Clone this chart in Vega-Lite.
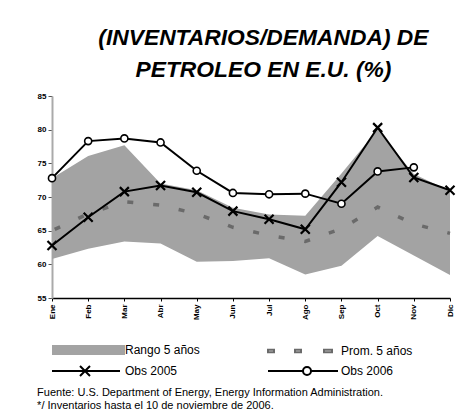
{
  "$schema": "https://vega.github.io/schema/vega-lite/v6.json",
  "padding": {"left": 37, "top": 27, "right": 5, "bottom": 2},
  "title": {
    "text": ["Fuente: U.S. Department of Energy, Energy Information Administration.", "*/ Inventarios hasta el 10 de noviembre de 2006."],
    "orient": "bottom",
    "anchor": "start",
    "font": "Liberation Sans",
    "fontSize": 11,
    "fontWeight": "normal",
    "lineHeight": 13,
    "offset": 3,
    "color": "#000"
  },
  "datasets": {
    "rango": [
      {"mes": "Ene", "min": 60.8, "max": 72.8, "serie": "Rango 5 años"},
      {"mes": "Feb", "min": 62.3, "max": 76.1, "serie": "Rango 5 años"},
      {"mes": "Mar", "min": 63.4, "max": 77.7, "serie": "Rango 5 años"},
      {"mes": "Abr", "min": 63.1, "max": 72.0, "serie": "Rango 5 años"},
      {"mes": "May", "min": 60.4, "max": 71.0, "serie": "Rango 5 años"},
      {"mes": "Jun", "min": 60.5, "max": 68.4, "serie": "Rango 5 años"},
      {"mes": "Jul", "min": 60.9, "max": 67.4, "serie": "Rango 5 años"},
      {"mes": "Ago", "min": 58.5, "max": 67.2, "serie": "Rango 5 años"},
      {"mes": "Sep", "min": 59.8, "max": 73.5, "serie": "Rango 5 años"},
      {"mes": "Oct", "min": 64.2, "max": 80.0, "serie": "Rango 5 años"},
      {"mes": "Nov", "min": 61.3, "max": 73.4, "serie": "Rango 5 años"},
      {"mes": "Dic", "min": 58.4, "max": 70.9, "serie": "Rango 5 años"}
    ],
    "series": [
      {"mes": "Ene", "serie": "Prom. 5 años", "valor": 65.0},
      {"mes": "Feb", "serie": "Prom. 5 años", "valor": 67.5},
      {"mes": "Mar", "serie": "Prom. 5 años", "valor": 69.3},
      {"mes": "Abr", "serie": "Prom. 5 años", "valor": 68.8},
      {"mes": "May", "serie": "Prom. 5 años", "valor": 67.5},
      {"mes": "Jun", "serie": "Prom. 5 años", "valor": 65.5},
      {"mes": "Jul", "serie": "Prom. 5 años", "valor": 64.3},
      {"mes": "Ago", "serie": "Prom. 5 años", "valor": 63.4},
      {"mes": "Sep", "serie": "Prom. 5 años", "valor": 65.3},
      {"mes": "Oct", "serie": "Prom. 5 años", "valor": 68.5},
      {"mes": "Nov", "serie": "Prom. 5 años", "valor": 66.0},
      {"mes": "Dic", "serie": "Prom. 5 años", "valor": 64.6},
      {"mes": "Ene", "serie": "Obs 2005", "valor": 62.8},
      {"mes": "Feb", "serie": "Obs 2005", "valor": 67.0},
      {"mes": "Mar", "serie": "Obs 2005", "valor": 70.8},
      {"mes": "Abr", "serie": "Obs 2005", "valor": 71.7},
      {"mes": "May", "serie": "Obs 2005", "valor": 70.7},
      {"mes": "Jun", "serie": "Obs 2005", "valor": 67.9},
      {"mes": "Jul", "serie": "Obs 2005", "valor": 66.7},
      {"mes": "Ago", "serie": "Obs 2005", "valor": 65.2},
      {"mes": "Sep", "serie": "Obs 2005", "valor": 72.2},
      {"mes": "Oct", "serie": "Obs 2005", "valor": 80.3},
      {"mes": "Nov", "serie": "Obs 2005", "valor": 72.9},
      {"mes": "Dic", "serie": "Obs 2005", "valor": 71.0},
      {"mes": "Ene", "serie": "Obs 2006", "valor": 72.8},
      {"mes": "Feb", "serie": "Obs 2006", "valor": 78.3},
      {"mes": "Mar", "serie": "Obs 2006", "valor": 78.7},
      {"mes": "Abr", "serie": "Obs 2006", "valor": 78.1},
      {"mes": "May", "serie": "Obs 2006", "valor": 73.9},
      {"mes": "Jun", "serie": "Obs 2006", "valor": 70.6},
      {"mes": "Jul", "serie": "Obs 2006", "valor": 70.4},
      {"mes": "Ago", "serie": "Obs 2006", "valor": 70.5},
      {"mes": "Sep", "serie": "Obs 2006", "valor": 69.0},
      {"mes": "Oct", "serie": "Obs 2006", "valor": 73.8},
      {"mes": "Nov", "serie": "Obs 2006", "valor": 74.4}
    ]
  },
  "vconcat": [
    {
      "width": 398,
      "height": 202,
      "title": {
        "text": ["(INVENTARIOS/DEMANDA) DE", "PETROLEO EN E.U. (%)"],
        "font": "Liberation Sans",
        "fontSize": 22.8,
        "fontStyle": "italic",
        "fontWeight": "bold",
        "lineHeight": 32,
        "anchor": "middle",
        "frame": "bounds",
        "offset": 10,
        "color": "#000"
      },
      "encoding": {
        "x": {
          "field": "mes",
          "type": "nominal",
          "sort": null,
          "scale": {"type": "point", "padding": 0, "domain": ["Ene", "Feb", "Mar", "Abr", "May", "Jun", "Jul", "Ago", "Sep", "Oct", "Nov", "Dic"]},
          "axis": {"title": null, "labelAngle": -90, "labelFontSize": 8, "labelFont": "Liberation Sans", "labelFontWeight": "bold", "labelColor": "#000", "domainColor": "#000", "domainWidth": 1.5, "tickColor": "#000", "tickSize": 3, "labelPadding": 3}
        }
      },
      "layer": [
        {
          "data": {"name": "rango"},
          "mark": {"type": "area", "interpolate": "linear"},
          "encoding": {
            "y": {"field": "min", "type": "quantitative", "scale": {"domain": [55, 85], "nice": false, "zero": false},
              "axis": {"title": null, "values": [55, 60, 65, 70, 75, 80, 85], "grid": false, "labelOverlap": false, "labelFlush": false, "labelFontSize": 8, "labelFont": "Liberation Sans", "labelFontWeight": "bold", "labelColor": "#000", "domainColor": "#aaa", "domainWidth": 2, "tickColor": "#555", "tickSize": 4, "labelPadding": 2}},
            "y2": {"field": "max"},
            "fill": {"field": "serie", "type": "nominal",
              "scale": {"domain": ["Rango 5 años", "Prom. 5 años", "Obs 2005", "Obs 2006"], "range": ["#a3a3a3", "#666666", "#000000", "#ffffff"]}}
          }
        },
        {
          "data": {"name": "series"},
          "transform": [{"filter": "datum.serie === 'Prom. 5 años'"}],
          "mark": {"type": "line", "strokeWidth": 3.5, "strokeDash": [6, 20], "strokeDashOffset": -3},
          "encoding": {
            "y": {"field": "valor", "type": "quantitative",
              "axis": {"title": null, "values": [55, 60, 65, 70, 75, 80, 85], "grid": false, "labelOverlap": false, "labelFlush": false, "labelFontSize": 8, "labelFont": "Liberation Sans", "labelFontWeight": "bold", "labelColor": "#000", "domainColor": "#aaa", "domainWidth": 2, "tickColor": "#555", "tickSize": 4, "labelPadding": 2}},
            "stroke": {"field": "serie", "type": "nominal",
              "scale": {"domain": ["Rango 5 años", "Prom. 5 años", "Obs 2005", "Obs 2006"], "range": ["#a3a3a3", "#6a6a6a", "#000000", "#000000"]}}
          }
        },
        {
          "data": {"name": "series"},
          "transform": [{"filter": "datum.serie === 'Obs 2005'"}],
          "mark": {"type": "line", "strokeWidth": 2},
          "encoding": {
            "y": {"field": "valor", "type": "quantitative",
              "axis": {"title": null, "values": [55, 60, 65, 70, 75, 80, 85], "grid": false, "labelOverlap": false, "labelFlush": false, "labelFontSize": 8, "labelFont": "Liberation Sans", "labelFontWeight": "bold", "labelColor": "#000", "domainColor": "#aaa", "domainWidth": 2, "tickColor": "#555", "tickSize": 4, "labelPadding": 2}},
            "stroke": {"field": "serie", "type": "nominal"}
          }
        },
        {
          "data": {"name": "series"},
          "transform": [{"filter": "datum.serie === 'Obs 2006'"}],
          "mark": {"type": "line", "strokeWidth": 2},
          "encoding": {
            "y": {"field": "valor", "type": "quantitative",
              "axis": {"title": null, "values": [55, 60, 65, 70, 75, 80, 85], "grid": false, "labelOverlap": false, "labelFlush": false, "labelFontSize": 8, "labelFont": "Liberation Sans", "labelFontWeight": "bold", "labelColor": "#000", "domainColor": "#aaa", "domainWidth": 2, "tickColor": "#555", "tickSize": 4, "labelPadding": 2}},
            "stroke": {"field": "serie", "type": "nominal"}
          }
        },
        {
          "data": {"name": "series"},
          "transform": [{"filter": "datum.serie === 'Obs 2005'"}],
          "mark": {"type": "point", "shape": "M-1,-1L1,1M-1,1L1,-1", "size": 81, "filled": false, "stroke": "#000", "strokeWidth": 2.2, "opacity": 1},
          "encoding": {
            "y": {"field": "valor", "type": "quantitative",
              "axis": {"title": null, "values": [55, 60, 65, 70, 75, 80, 85], "grid": false, "labelOverlap": false, "labelFlush": false, "labelFontSize": 8, "labelFont": "Liberation Sans", "labelFontWeight": "bold", "labelColor": "#000", "domainColor": "#aaa", "domainWidth": 2, "tickColor": "#555", "tickSize": 4, "labelPadding": 2}}
          }
        },
        {
          "data": {"name": "series"},
          "transform": [{"filter": "datum.serie === 'Obs 2006'"}],
          "mark": {"type": "point", "shape": "circle", "size": 50, "filled": true, "fill": "#fff", "stroke": "#000", "strokeWidth": 1.6, "opacity": 1},
          "encoding": {
            "y": {"field": "valor", "type": "quantitative",
              "axis": {"title": null, "values": [55, 60, 65, 70, 75, 80, 85], "grid": false, "labelOverlap": false, "labelFlush": false, "labelFontSize": 8, "labelFont": "Liberation Sans", "labelFontWeight": "bold", "labelColor": "#000", "domainColor": "#aaa", "domainWidth": 2, "tickColor": "#555", "tickSize": 4, "labelPadding": 2}}
          }
        },
        {
          "data": {"name": "series"},
          "mark": {"type": "point", "filled": true, "opacity": 0},
          "encoding": {
            "y": {"field": "valor", "type": "quantitative",
              "axis": {"title": null, "values": [55, 60, 65, 70, 75, 80, 85], "grid": false, "labelOverlap": false, "labelFlush": false, "labelFontSize": 8, "labelFont": "Liberation Sans", "labelFontWeight": "bold", "labelColor": "#000", "domainColor": "#aaa", "domainWidth": 2, "tickColor": "#555", "tickSize": 4, "labelPadding": 2}},
            "shape": {"field": "serie", "type": "nominal",
              "scale": {"domain": ["Rango 5 años", "Prom. 5 años", "Obs 2005", "Obs 2006"],
                "range": [
                  "M-2.5,-1H15.75M-2.5,-0.5H15.75M-2.5,0H15.75M-2.5,0.5H15.75M-2.5,1H15.75",
                  "M-2.5,-0.3H-1V0.3H-2.5ZM4.25,-0.3H5.75V0.3H4.25ZM11.5,-0.3H13.5V0.3H11.5Z",
                  "M-2.5,0H14.5M4.5,-1.25L7,1.25M4.5,1.25L7,-1.25",
                  "M-2.5,0H6.25M8.25,0H15M6.25,0A1,1 0 1,0 8.25,0A1,1 0 1,0 6.25,0"
                ]}},
            "fill": {"field": "serie", "type": "nominal"},
            "stroke": {"field": "serie", "type": "nominal"}
          }
        }
      ]
    }
  ],
  "config": {
    "font": "Liberation Sans",
    "view": {"stroke": null},
    "legend": {
      "orient": "bottom",
      "columns": 2,
      "title": null,
      "symbolSize": 64,
      "symbolStrokeWidth": 2,
      "labelOffset": 57,
      "columnPadding": 64,
      "rowPadding": 4,
      "labelFont": "Liberation Sans",
      "labelFontSize": 12,
      "labelColor": "#000",
      "offset": 20,
      "padding": 4
    }
  }
}
